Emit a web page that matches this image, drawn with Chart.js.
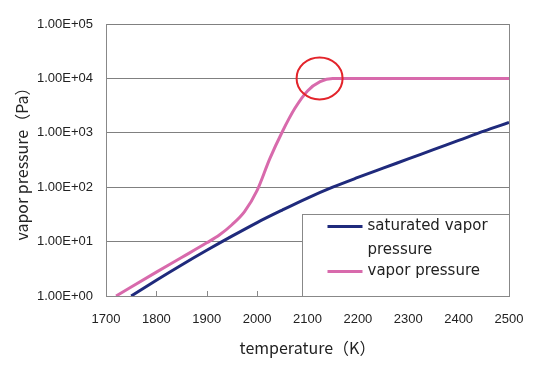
<!DOCTYPE html>
<html>
<head>
<meta charset="utf-8">
<script src="https://cdn.jsdelivr.net/npm/chart.js@4"></script>
<style>
  body { margin: 0; background: #fff; }
</style>
</head>
<body>
<canvas id="myChart" width="533" height="365"></canvas>
<script>
// saturated vapor pressure (Pa) vs temperature (K)
var satTemps = [1750, 1800, 1850, 1900, 1950, 2000, 2050, 2100, 2150, 2200, 2250, 2300, 2350, 2400, 2450, 2500];
var satPressure = [1.0, 1.95, 3.72, 6.92, 12.6, 22.4, 38.0, 63.1, 100, 151, 224, 331, 490, 724, 1072, 1549];

// vapor pressure (Pa), levels off at 1.00E+04
var vapTemps = [1720, 1800, 1850, 1900, 1925, 1950, 1975, 2000, 2025, 2050, 2075, 2100, 2125, 2150, 2200, 2500];
var vapPressure = [1.0, 2.75, 5.1, 9.5, 13.2, 20.4, 35.5, 87.1, 331, 1047, 2818, 5888, 8710, 10000, 10000, 10000];

var yTicks = [1, 10, 100, 1000, 10000, 100000];

// spot where the vapor pressure reaches its ceiling
var markT = 2124;
var markP = 10000;

var tickFont = { family: "Liberation Sans", size: 13 };
var titleFont = { family: "Noto Sans CJK JP", size: 16 };

function pairs(xs, ys) {
  return xs.map((x, i) => ({ x: x, y: ys[i] }));
}

function sciLabel(v) {
  var e = Math.round(Math.log10(v));
  return "1.00E" + (e < 0 ? "-" : "+") + String(Math.abs(e)).padStart(2, "0");
}

var frame = {
  id: "frame",
  beforeDatasetsDraw(chart) {
    const { ctx, chartArea: a, scales } = chart;
    ctx.save();
    ctx.strokeStyle = "#888";
    ctx.lineWidth = 1;
    ctx.beginPath();
    ctx.moveTo(a.right + 0.5, a.top);
    ctx.lineTo(a.right + 0.5, a.bottom);
    // small tick marks pointing up into the plot
    scales.x.ticks.forEach((t) => {
      const px = Math.round(scales.x.getPixelForValue(t.value)) + 0.5;
      ctx.moveTo(px, a.bottom);
      ctx.lineTo(px, a.bottom - 5);
    });
    ctx.stroke();
    ctx.restore();
  },
  afterDatasetsDraw(chart) {
    const { ctx, chartArea: a, scales } = chart;
    ctx.save();

    // legend box in the lower right corner
    const w = 207, h = 82;
    const bx = Math.round(a.right - w) + 0.5;
    const by = Math.round(a.bottom - h) + 0.5;
    ctx.fillStyle = "#fff";
    ctx.fillRect(bx, by, w, h);
    ctx.strokeStyle = "#888";
    ctx.lineWidth = 1;
    ctx.strokeRect(bx, by, w, h);

    ctx.font = "15px 'DejaVu Sans'";
    ctx.textBaseline = "middle";
    ctx.fillStyle = "#222";
    let rowY = by + 12;
    chart.data.datasets.forEach((ds) => {
      ctx.strokeStyle = ds.borderColor;
      ctx.lineWidth = 3;
      ctx.beginPath();
      ctx.moveTo(bx + 25, rowY);
      ctx.lineTo(bx + 60, rowY);
      ctx.stroke();
      const lines = Array.isArray(ds.label) ? ds.label : [ds.label];
      lines.forEach((txt, i) => {
        ctx.fillText(txt, bx + 65, rowY + i * 24);
      });
      rowY += lines.length * 22.5;
    });

    // red ring around the knee of the vapor pressure curve
    ctx.strokeStyle = "#e3242b";
    ctx.lineWidth = 2;
    ctx.beginPath();
    ctx.ellipse(scales.x.getPixelForValue(markT), scales.y.getPixelForValue(markP), 23, 21, 0, 0, Math.PI * 2);
    ctx.stroke();
    ctx.restore();
  },
};

var ctx = document.getElementById("myChart").getContext("2d");
var myChart = new Chart(ctx, {
  type: "line",
  data: {
    datasets: [
      {
        label: ["saturated vapor", "pressure"],
        data: pairs(satTemps, satPressure),
        borderColor: "#1f2a7c",
        borderWidth: 3,
        pointRadius: 0,
        cubicInterpolationMode: "monotone",
      },
      {
        label: "vapor pressure",
        data: pairs(vapTemps, vapPressure),
        borderColor: "#d86aac",
        borderWidth: 3,
        pointRadius: 0,
        cubicInterpolationMode: "monotone",
      },
    ],
  },
  options: {
    responsive: false,
    animation: false,
    layout: { padding: { top: 24, right: 24 } },
    plugins: {
      legend: { display: false },
      tooltip: { enabled: false },
    },
    scales: {
      x: {
        type: "linear",
        min: 1700,
        max: 2500,
        ticks: { stepSize: 100, padding: 16, maxRotation: 0, font: tickFont, color: "#222", callback: (v) => String(v) },
        grid: { display: false, drawTicks: false },
        border: { color: "#888" },
        title: { display: true, text: "temperature（K）", font: titleFont, color: "#222", padding: { top: 0, bottom: 7 } },
        afterFit: (s) => {
          s.height = 69;
          // the last label may hang past the plot edge
          s.paddingLeft = 0;
          s.paddingRight = 0;
        },
      },
      y: {
        type: "logarithmic",
        min: 1,
        max: 100000,
        afterBuildTicks: (s) => { s.ticks = yTicks.map((v) => ({ value: v })); },
        ticks: { callback: sciLabel, padding: 13, font: tickFont, color: "#222" },
        grid: { color: "#808080", drawTicks: false },
        border: { color: "#888" },
        title: { display: true, text: "vapor pressure（Pa）", font: titleFont, color: "#222", padding: { top: 12, bottom: 0 } },
        afterFit: (s) => { s.width = 106; },
      },
    },
  },
  plugins: [frame],
});
</script>
</body>
</html>
